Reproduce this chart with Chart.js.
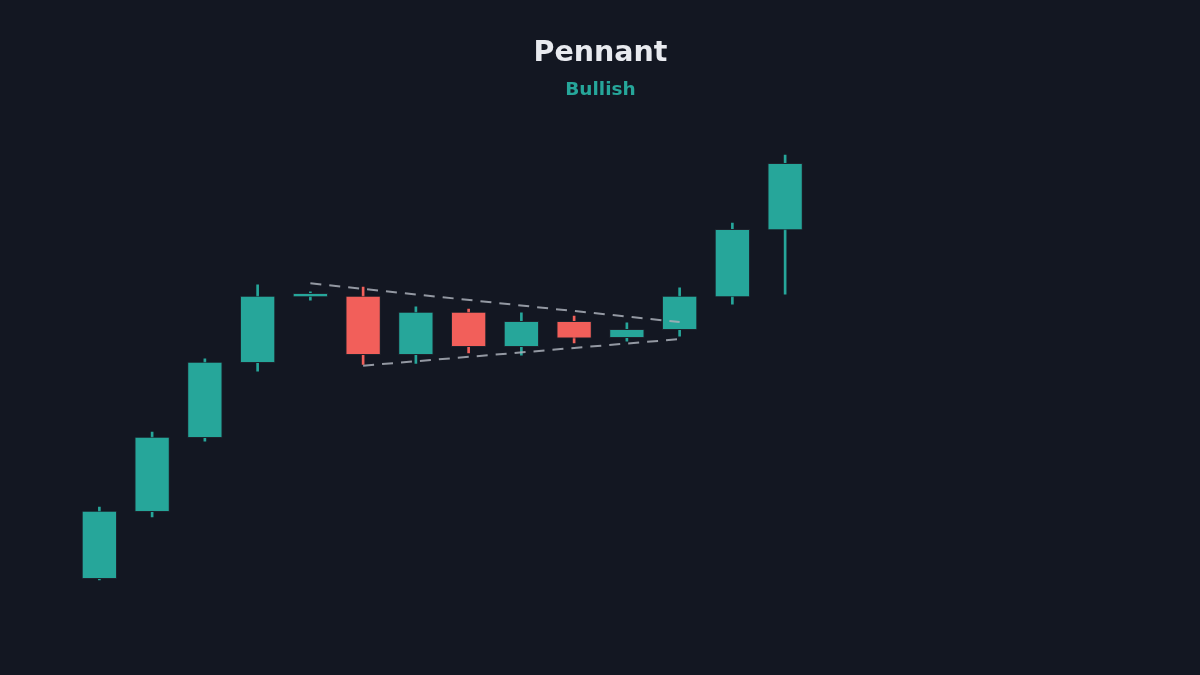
<!DOCTYPE html>
<html>
<head>
<meta charset="utf-8">
<title>Pennant</title>
<script src="https://cdn.jsdelivr.net/npm/chart.js@4.4.1/dist/chart.umd.min.js"></script>
<style>
  html, body { margin: 0; padding: 0; background: #131722; }
  #wrap { width: 1200px; height: 675px; }
</style>
</head>
<body>
<div id="wrap"><canvas id="pennantChart"></canvas></div>
<script>
// candles (price units), 20 slots, the last ones stay empty
const labels = ['1', '2', '3', '4', '5', '6', '7', '8', '9', '10',
  '11', '12', '13', '14', '15', '16', '17', '18', '19', '20'];
const opens  = [5.25, 22.0, 40.5, 59.25, 75.75, 76.1, 61.25, 72.1, 63.25, 69.8, 65.5, 67.5, 75.75, 92.5];
const highs  = [23.25, 42.0, 60.3, 78.8, 77.1, 78.25, 73.3, 72.75, 71.8, 71.0, 69.3, 78.1, 94.3, 111.3];
const lows   = [5.0, 20.75, 39.75, 57.25, 75.0, 58.9, 59.2, 61.8, 61.25, 64.3, 64.75, 66.0, 74.0, 76.5];
const closes = [22.3, 40.8, 59.6, 76.1, 76.8, 61.25, 72.1, 63.25, 69.8, 65.4, 67.75, 76.1, 92.8, 109.3];

// pennant boundaries: [index, price]
const upperLine = [[4, 79.2], [11, 69.5]];
const lowerLine = [[5, 58.6], [11, 65.25]];

const bullColor = '#26a69a';
const bearColor = '#f25f5a';

const bodies = labels.map((l, i) => i < opens.length ? [opens[i], closes[i]] : null);
const wicks = labels.map((l, i) => i < highs.length ? [lows[i], highs[i]] : null);
const candleColors = labels.map((l, i) => (closes[i] >= opens[i]) ? bullColor : bearColor);

function lineData(pts) {
  const arr = labels.map(() => null);
  pts.forEach(p => { arr[p[0]] = p[1]; });
  return arr;
}

const bgPlugin = {
  id: 'bg',
  beforeDraw(chart) {
    const c = chart.ctx;
    c.save();
    c.fillStyle = '#131722';
    c.fillRect(0, 0, chart.width, chart.height);
    c.restore();
  }
};

const ctx = document.getElementById('pennantChart').getContext('2d');
new Chart(ctx, {
  type: 'bar',
  data: {
    labels: labels,
    datasets: [
      {
        label: 'Upper',
        type: 'line',
        data: lineData(upperLine),
        borderColor: 'rgba(170,175,185,0.85)',
        borderWidth: 2,
        borderDash: [11, 8],
        pointRadius: 0,
        spanGaps: true,
        order: 0
      },
      {
        label: 'Lower',
        type: 'line',
        data: lineData(lowerLine),
        borderColor: 'rgba(170,175,185,0.85)',
        borderWidth: 2,
        borderDash: [11, 8],
        pointRadius: 0,
        spanGaps: true,
        order: 0
      },
      {
        label: 'Body',
        data: bodies,
        backgroundColor: candleColors,
        borderColor: '#1d222c',
        borderWidth: 1,
        borderSkipped: false,
        grouped: false,
        barPercentage: 0.67,
        categoryPercentage: 1,
        order: 1
      },
      {
        label: 'Wick',
        data: wicks,
        backgroundColor: candleColors,
        borderWidth: 0,
        grouped: false,
        barThickness: 2,
        order: 2
      }
    ]
  },
  options: {
    responsive: true,
    maintainAspectRatio: false,
    animation: false,
    layout: {
      padding: { left: 73, right: 72, top: 0, bottom: 75 }
    },
    scales: {
      x: { display: false, offset: true, grid: { display: false } },
      y: { display: false, min: 0, max: 120, grid: { display: false } }
    },
    plugins: {
      legend: { display: false },
      tooltip: { enabled: false },
      title: {
        display: true,
        text: 'Pennant',
        color: '#e8eaef',
        font: { family: 'DejaVu Sans', size: 28.5, weight: 'bold' },
        padding: { top: 36.5, bottom: 4.5 }
      },
      subtitle: {
        display: true,
        text: 'Bullish',
        color: bullColor,
        font: { family: 'DejaVu Sans', size: 18.5, weight: 'bold' },
        padding: { top: 4, bottom: 18.8 }
      }
    }
  },
  plugins: [bgPlugin]
});
</script>
</body>
</html>
